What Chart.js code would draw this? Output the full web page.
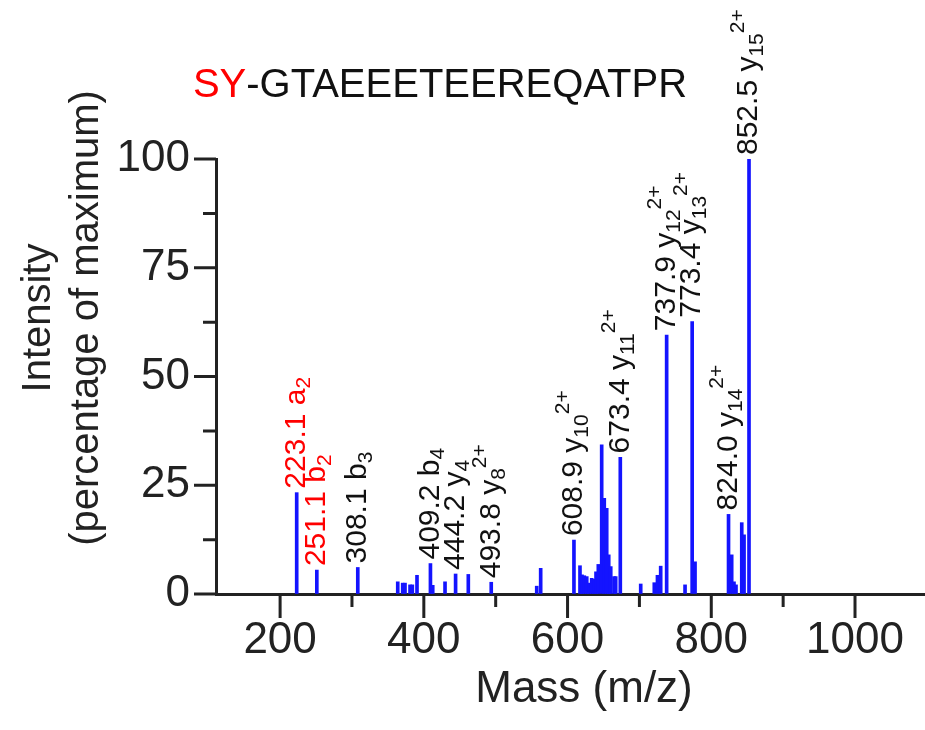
<!DOCTYPE html>
<html>
<head>
<meta charset="utf-8">
<script src="https://cdn.jsdelivr.net/npm/chart.js@4.4.1/dist/chart.umd.min.js"></script>
<style>
  body { margin: 0; background: #fff; }
  #wrap { width: 925px; height: 730px; position: relative; }
</style>
</head>
<body>
<div id="wrap"><canvas id="spectrum"></canvas></div>
<script>
// MS/MS spectrum of SY-GTAEEETEEREQATPR

// peak positions (m/z) and intensities (% of maximum)
const peakMz = [
  223.1, 251.1, 308.1, 363.7, 370.6, 373.8, 380.8, 384.0, 390.5, 409.2, 412.4,
  429.5, 444.2, 461.9, 493.8, 557.1, 562.6, 608.9, 617.3, 620.1, 623.3, 626.7,
  629.9, 633.6, 636.8, 639.6, 642.8, 647.5, 651.1, 654.5, 657.3, 660.1, 664.7,
  667.0, 673.4, 701.8, 720.7, 725.1, 729.6, 737.9, 763.5, 773.4, 777.4, 824.0,
  828.4, 831.6, 834.4, 842.4, 845.6, 852.5
];
const peakIntensity = [
  23.3, 5.5, 6.1, 2.8, 2.5, 2.5, 2.1, 2.1, 4.3, 7.0, 2.0,
  2.8, 4.6, 4.5, 2.7, 1.8, 5.9, 12.4, 6.5, 4.4, 4.2, 4.0,
  2.5, 3.6, 3.4, 5.1, 6.8, 34.3, 22.0, 19.7, 9.0, 6.3, 4.0,
  4.0, 31.4, 2.3, 2.6, 4.3, 6.4, 59.5, 2.1, 62.6, 7.4, 18.3,
  9.0, 2.8, 2.1, 16.4, 13.6, 100
];

// annotated fragment ions
const labelMz = [223.1, 251.1, 308.1, 409.2, 444.2, 493.8, 608.9, 673.4, 737.9, 773.4, 824.0, 852.5];
const labelIon = ['a', 'b', 'b', 'b', 'y', 'y', 'y', 'y', 'y', 'y', 'y', 'y'];
const labelSub = ['2', '2', '3', '4', '4', '8', '10', '11', '12', '13', '14', '15'];
const labelSup = ['', '', '', '', '', '2+', '2+', '2+', '2+', '2+', '2+', '2+'];
const labelColor = ['#ff0000', '#ff0000', '#111', '#111', '#111', '#111', '#111', '#111', '#111', '#111', '#111', '#111'];

const xMajorTicks = [200, 400, 600, 800, 1000];
const xMinorTicks = [300, 500, 700, 900];
const yMajorTicks = [0, 25, 50, 75, 100];
const yMinorTicks = [12.5, 37.5, 62.5, 87.5];

const titleRed = 'SY';
const titleBlack = '-GTAEEETEEREQATPR';
const xTitle = 'Mass (m/z)';
const yTitle = ['Intensity', '(percentage of maximum)'];

const FONT = '"Liberation Sans", Arial, sans-serif';
const AXIS_COLOR = '#222';

// tick marks of two lengths, drawn from the scales
const tickMarks = {
  id: 'tickMarks',
  afterDraw(chart) {
    const ctx = chart.ctx;
    const xs = chart.scales.x, ys = chart.scales.y;
    const base = ys.getPixelForValue(0);
    const left = xs.left;
    ctx.save();
    ctx.strokeStyle = AXIS_COLOR;
    ctx.lineWidth = 3;
    ctx.beginPath();
    xMajorTicks.forEach(v => { const p = xs.getPixelForValue(v); ctx.moveTo(p, base); ctx.lineTo(p, base + 24); });
    xMinorTicks.forEach(v => { const p = xs.getPixelForValue(v); ctx.moveTo(p, base); ctx.lineTo(p, base + 13); });
    yMajorTicks.forEach(v => { const p = ys.getPixelForValue(v); ctx.moveTo(left, p); ctx.lineTo(left - 22, p); });
    yMinorTicks.forEach(v => { const p = ys.getPixelForValue(v); ctx.moveTo(left, p); ctx.lineTo(left - 13, p); });
    ctx.stroke();
    ctx.restore();
  }
};

// rotated peak annotations
const peakLabels = {
  id: 'peakLabels',
  afterDatasetsDraw(chart) {
    const ctx = chart.ctx;
    const xs = chart.scales.x, ys = chart.scales.y;
    labelMz.forEach((mz, i) => {
      const k = peakMz.indexOf(mz);
      const x = xs.getPixelForValue(mz);
      const y = ys.getPixelForValue(peakIntensity[k]) - 4;
      ctx.save();
      ctx.translate(x, y);
      ctx.rotate(-Math.PI / 2);
      ctx.fillStyle = labelColor[i];
      ctx.textBaseline = 'middle';
      ctx.textAlign = 'left';
      ctx.font = '30px ' + FONT;
      const main = mz.toFixed(1) + ' ' + labelIon[i];
      ctx.fillText(main, 0, 0);
      let pos = ctx.measureText(main).width;
      ctx.font = '21px ' + FONT;
      ctx.fillText(labelSub[i], pos, 8);
      pos += ctx.measureText(labelSub[i]).width;
      if (labelSup[i]) ctx.fillText(labelSup[i], pos, -11);
      ctx.restore();
    });
  }
};

// title and axis titles
const texts = {
  id: 'texts',
  afterDraw(chart) {
    const ctx = chart.ctx;
    ctx.save();
    ctx.textBaseline = 'alphabetic';
    ctx.font = '40px ' + FONT;
    const wRed = ctx.measureText(titleRed).width;
    const wBlack = ctx.measureText(titleBlack).width;
    let x0 = 440 - (wRed + wBlack) / 2;
    ctx.textAlign = 'left';
    ctx.fillStyle = '#ff0000';
    ctx.fillText(titleRed, x0, 97);
    ctx.fillStyle = '#111';
    ctx.fillText(titleBlack, x0 + wRed, 97);

    ctx.font = '44px ' + FONT;
    ctx.textAlign = 'center';
    ctx.fillStyle = AXIS_COLOR;
    ctx.fillText(xTitle, 584, 702);

    ctx.font = '40px ' + FONT;
    ctx.translate(0, 318);
    ctx.rotate(-Math.PI / 2);
    ctx.fillText(yTitle[0], 0, 50);
    ctx.fillText(yTitle[1], 0, 98);
    ctx.restore();
  }
};

new Chart(document.getElementById('spectrum'), {
  type: 'bar',
  data: {
    datasets: [{
      data: peakMz.map((m, i) => ({ x: m, y: peakIntensity[i] })),
      backgroundColor: '#1414ff',
      barThickness: 3,
      grouped: false
    }]
  },
  options: {
    responsive: true,
    maintainAspectRatio: false,
    animation: false,
    layout: { padding: { top: 159, left: 0, right: 0, bottom: 0 } },
    plugins: { legend: { display: false }, tooltip: { enabled: false } },
    scales: {
      x: {
        type: 'linear',
        offset: false,
        min: 110.8,
        max: 1097.4,
        afterBuildTicks: s => { s.ticks = xMajorTicks.map(v => ({ value: v })); },
        afterFit: s => { s.height = 136; },
        grid: { drawOnChartArea: false, drawTicks: false, offset: false },
        border: { display: true, width: 3, color: AXIS_COLOR },
        ticks: { color: AXIS_COLOR, padding: 20, maxRotation: 0, font: { family: FONT, size: 44 },
                 callback: v => String(v) }
      },
      y: {
        min: 0,
        max: 100,
        afterBuildTicks: s => { s.ticks = yMajorTicks.map(v => ({ value: v })); },
        afterFit: s => { s.width = 216; },
        grid: { drawOnChartArea: false, drawTicks: false },
        border: { display: true, width: 3, color: AXIS_COLOR },
        ticks: { color: AXIS_COLOR, padding: 26, font: { family: FONT, size: 44 } }
      }
    }
  },
  plugins: [tickMarks, peakLabels, texts]
});
</script>
</body>
</html>
